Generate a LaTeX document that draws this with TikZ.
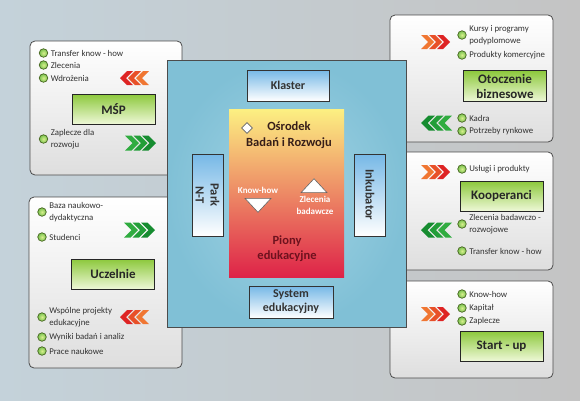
\documentclass[tikz,border=0pt]{standalone}
\usepackage{fontspec}
\setmainfont{Carlito}
\usetikzlibrary{positioning, shapes.geometric}
\definecolor{cBgL}{RGB}{196,210,218}
\definecolor{cBgM}{RGB}{222,222,222}
\definecolor{cBgR}{RGB}{196,196,196}
\definecolor{cPanelB}{RGB}{222,222,222}
\definecolor{cFrame}{RGB}{75,75,75}
\definecolor{cBigIn}{RGB}{162,212,228}
\definecolor{cBigOut}{RGB}{128,192,214}
\definecolor{cSmallTop}{RGB}{118,184,230}
\definecolor{cActTop}{RGB}{140,200,60}
\definecolor{cActBot}{RGB}{238,248,215}
\definecolor{cYel}{RGB}{252,240,130}
\definecolor{cOra}{RGB}{238,140,105}
\definecolor{cCrim}{RGB}{222,35,72}
\definecolor{cDotIn}{RGB}{215,238,140}
\definecolor{cDotOut}{RGB}{70,100,30}
\definecolor{cChevA}{RGB}{222,36,36}
\definecolor{cChevB}{RGB}{232,80,40}
\definecolor{cChevC}{RGB}{240,118,50}
\definecolor{cGrA}{RGB}{22,140,48}
\definecolor{cGrB}{RGB}{34,158,56}
\definecolor{cGrC}{RGB}{48,172,64}
\definecolor{cTxt}{RGB}{50,50,50}
\definecolor{cDark}{RGB}{55,30,25}
\definecolor{cPiony}{RGB}{110,18,30}
\tikzset{
	panel/.style={draw=cFrame, line width=0.8pt, rounded corners=5pt, top color=white, bottom color=cPanelB},
	actor/.style={draw=black!85, line width=0.8pt, top color=cActTop, bottom color=cActBot, minimum width=83pt, minimum height=30pt, align=center, text=black!85, font=\bfseries\fontsize{13}{15}\selectfont},
	inner/.style={draw=black!80, line width=0.8pt, top color=cSmallTop, bottom color=white, align=center, text=black!80, font=\bfseries\fontsize{12}{14}\selectfont},
	dot/.style={circle, draw=cDotOut, line width=0.7pt, inner color=cDotIn, outer color=cDotIn!70!green!80!black, minimum size=8.5pt, inner sep=0pt},
	itemtext/.style={inner sep=1pt, align=left, text=cTxt, font=\fontsize{8.8}{11.5}\selectfont},
	marker/.style={draw=black!60, line width=0.6pt, fill=white},
	whitetext/.style={text=white, align=center, font=\bfseries\fontsize{9}{12}\selectfont},
	redchev/.pic={
		\foreach \o/\c in {0/cChevC,8/cChevB,16/cChevA}
			\fill[\c] (\o,-7) -- ++(6,0) -- ++(7,7) -- ++(-7,7) -- ++(-6,0) -- ++(7,-7) -- cycle;
	},
	greenchev/.pic={
		\foreach \o/\c in {0/cGrC,8.5/cGrB,17/cGrA}
			\fill[\c] (\o,-7.5) -- ++(6.5,0) -- ++(7.5,7.5) -- ++(-7.5,7.5) -- ++(-6.5,0) -- ++(7.5,-7.5) -- cycle;
	},
}
% circle with its text to the right
\newcommand{\dotitem}[4]{%
	\node[dot] (#1) at (#2,#3) {};
	\node[itemtext, right=1.5pt of #1] (#1t) {#4};}

\begin{document}
\begin{tikzpicture}[x=1pt, y=-1pt]
	\useasboundingbox (0,0) rectangle (580,400);
	\shade[left color=cBgL, middle color=cBgM, right color=cBgR] (0,0) rectangle (580,400);

	% outer panels
	\draw[panel] (30,41) rectangle (182,175);
	\draw[panel] (29,197) rectangle (182,368);
	\draw[panel] (390,15) rectangle (553,142);
	\draw[panel] (390,152) rectangle (553,270);
	\draw[panel] (390,281) rectangle (553,378);

	% centre
	\draw[draw=black!70, line width=0.8pt, inner color=cBigIn, outer color=cBigOut] (167,60) rectangle (406,327);
	\node[inner, minimum width=82pt, minimum height=31pt] (klaster) at (288,85.5) {Klaster};
	\node[inner, minimum width=84pt, minimum height=32pt] (system) at (291,302) {System\\edukacyjny};
	\node[inner, rotate=-90, minimum width=82pt, minimum height=31pt, font=\bfseries\fontsize{12.5}{15}\selectfont] (park) at (207.5,195) {Park\\N-T};
	\node[inner, rotate=-90, minimum width=82pt, minimum height=31pt, font=\bfseries\fontsize{12.5}{15}\selectfont] (inkub) at (370,195) {Inkubator};

	\shade[top color=cYel, middle color=cOra, bottom color=cCrim] (229,109) rectangle (344,277);
	\node[align=center, text=cDark, font=\bfseries\fontsize{12.5}{16}\selectfont] (osrodek) at (289,135) {Ośrodek\\Badań i Rozwoju};
	\node[diamond, marker, minimum size=11pt, inner sep=0pt] (dia) at (247,128) {};
	\node[whitetext] (knowhow) at (258,190) {Know-how};
	\node[isosceles triangle, shape border rotate=-90, marker, minimum height=14pt, minimum width=26pt, isosceles triangle stretches, inner sep=0pt] (down) at (258,204) {};
	\node[isosceles triangle, shape border rotate=90, marker, minimum height=14pt, minimum width=26pt, isosceles triangle stretches, inner sep=0pt] (up) at (314,187) {};
	\node[whitetext] (zlec) at (315,205) {Zlecenia\\badawcze};
	\node[align=center, text=cPiony, font=\bfseries\fontsize{12.5}{15.5}\selectfont] (piony) at (287,248.5) {Piony\\edukacyjne};

	% MSP
	\node[actor] (msp) at (113.5,109) {MŚP};
	\dotitem{m1}{43.5}{53}{Transfer know - how}
	\dotitem{m2}{43.5}{65}{Zlecenia}
	\dotitem{m3}{43.5}{78}{Wdrożenia}
	\dotitem{m4}{43.5}{139}{Zaplecze dla\\rozwoju}
	\pic[xscale=-1] at (149,78) {redchev};
	\pic at (125,143) {greenchev};

	% Uczelnie
	\node[actor] (ucz) at (113,274) {Uczelnie};
	\dotitem{u1}{42}{212}{Baza naukowo-\\dydaktyczna}
	\dotitem{u2}{42}{237}{Studenci}
	\dotitem{u3}{42}{317}{Wspólne projekty\\edukacyjne}
	\dotitem{u4}{42}{337}{Wyniki badań i analiz}
	\dotitem{u5}{42}{351}{Prace naukowe}
	\pic at (124,230) {greenchev};
	\pic[xscale=-1] at (149,317) {redchev};

	% Otoczenie biznesowe
	\node[actor] (oto) at (505,86) {Otoczenie\\biznesowe};
	\dotitem{o1}{462}{35}{Kursy i programy\\podyplomowe}
	\dotitem{o2}{462}{55}{Produkty komercyjne}
	\dotitem{o3}{462}{118}{Kadra}
	\dotitem{o4}{462}{131}{Potrzeby rynkowe}
	\pic at (421,42) {redchev};
	\pic[xscale=-1] at (452,123) {greenchev};

	% Kooperanci
	\node[actor] (koop) at (501.5,196) {Kooperanci};
	\dotitem{k1}{462}{169}{Usługi i produkty}
	\dotitem{k2}{462}{224}{Zlecenia badawczo -\\rozwojowe}
	\dotitem{k3}{462}{251}{Transfer know - how}
	\pic at (421,172) {redchev};
	\pic[xscale=-1] at (452,230) {greenchev};

	% Start-up
	\node[actor] (start) at (501.5,346) {Start - up};
	\dotitem{s1}{462}{294}{Know-how}
	\dotitem{s2}{462}{308}{Kapitał}
	\dotitem{s3}{462}{321}{Zaplecze}
	\pic at (421,314) {redchev};
\end{tikzpicture}
\end{document}
